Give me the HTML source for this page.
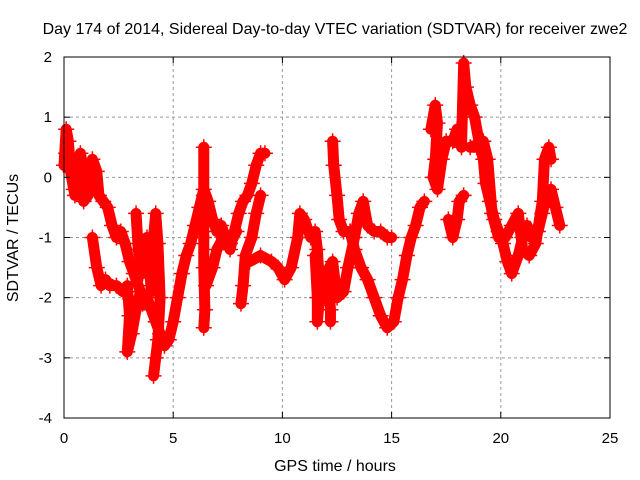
<!DOCTYPE html>
<html><head><meta charset="utf-8"><style>
html,body{margin:0;padding:0;background:#fff;}
svg{display:block;font-family:"Liberation Sans",sans-serif;}
</style></head><body>
<svg id="chart" width="640" height="480" viewBox="0 0 640 480">
<rect x="0" y="0" width="640" height="480" fill="#fff"/>
<text x="335" y="34" font-size="16" text-anchor="middle" fill="#000">Day 174 of 2014, Sidereal Day-to-day VTEC variation (SDTVAR) for receiver zwe2</text>
<g id="grid"></g>
<g id="marks"></g>
<rect x="64" y="57" width="546" height="361" fill="none" stroke="#000" stroke-width="1"/>
<g id="ticks"></g>
<text x="335" y="471" font-size="16" text-anchor="middle">GPS time / hours</text>
<text x="18" y="238" font-size="16" text-anchor="middle" transform="rotate(-90 18 238)">SDTVAR / TECUs</text>
</svg>
<script>
const xTicks = [0,5,10,15,20,25];
const yTicks = [2,1,0,-1,-2,-3,-4];
const segmentTimes = [
 [0,0.1,0.2,0.3,0.45,0.6,0.75,0.9,1.0,1.15,1.3,1.5,1.6,1.8,2.0,2.2,2.4,2.6,2.8,3.0,3.2,3.4,3.6,3.8,4.0,4.2,4.4,4.6,4.8,5.0,5.2,5.4,5.6,5.8,6.0,6.2,6.4,6.6,6.8,7.0,7.2,7.4,7.6,7.8,8.0,8.2,8.4,8.6,8.8,9.0,9.2],
 [1.3,1.5,1.7,1.9,2.1,2.4,2.7,2.9,3.0,2.9,3.1,3.3,3.5,3.6],
 [3.3,3.4,3.6,3.8,4.0,4.1,4.2,4.3,4.4,4.3,4.2,4.1],
 [6.4,6.4,6.4,6.4,6.45,6.4],
 [9.0,8.8,8.6,8.3,8.2,8.1],
 [8.5,9.0,9.5,9.8,10.1,10.4,10.7,10.8,11.0,11.3,11.5,11.6,11.7,11.9,12.0,12.3,12.5,12.8,13.0,13.3,13.5,13.7,13.9,14.2,14.5,14.8,15.0],
 [12.3,12.35,12.5,12.6,12.8,13.1],
 [11.5,11.6,11.6,11.8,12.1,12.2,12.2],
 [13.1,13.3,13.6,13.9,14.2,14.5,14.8,15.1,15.3,15.5,15.7,15.9,16.1,16.3,16.5],
 [16.8,17.0,17.1,17.0,16.9,17.1,17.3,17.5,17.8,18.0,18.2,18.3,18.4,18.6,18.8,19.0,19.2,19.3,19.5,19.7,19.9,20.1,20.3,20.5,20.8,21.0,21.2,21.4,21.7,21.9,22.1,22.3,22.5,22.7],
 [17.6,17.8,18.0,18.1,18.3],
 [18.6,18.9,19.2,19.4,19.6,19.9,20.2,20.5,20.8,21.0,21.3,21.6,21.9,22.0,22.2,22.3],
 [6.5,6.8,7.0,7.3,7.6,7.9],
 [0.1,0.3,0.5,0.7,0.9,1.1,1.3]
];
const segmentValues = [
 [0.2,0.8,0.6,0.1,-0.2,0.2,0.4,0.1,-0.3,0.1,0.3,0.1,-0.3,-0.4,-0.5,-0.8,-1.0,-0.9,-1.1,-1.4,-1.6,-1.8,-2.0,-2.0,-2.2,-2.4,-2.6,-2.8,-2.7,-2.4,-2.0,-1.6,-1.3,-1.1,-0.8,-0.5,-0.2,-0.4,-0.7,-0.9,-0.8,-1.0,-1.2,-0.9,-0.6,-0.4,-0.3,-0.1,0.2,0.4,0.4],
 [-1.0,-1.5,-1.8,-1.7,-1.8,-1.8,-1.9,-1.8,-2.3,-2.9,-2.6,-2.2,-1.9,-2.1],
 [-0.6,-1.2,-1.6,-1.0,-1.9,-1.0,-0.6,-1.1,-2.0,-2.7,-3.0,-3.3],
 [0.5,-0.3,-1.0,-1.5,-2.2,-2.5],
 [-0.3,-0.6,-1.0,-1.3,-1.8,-2.1],
 [-1.4,-1.3,-1.4,-1.5,-1.7,-1.5,-1.0,-0.6,-0.7,-1.0,-0.9,-1.2,-1.8,-2.0,-1.6,-1.4,-2.0,-1.9,-1.5,-1.0,-0.6,-0.4,-0.8,-0.9,-0.9,-1.0,-1.0],
 [0.6,0.2,-0.3,-0.7,-0.9,-0.9],
 [-1.3,-2.0,-2.4,-1.6,-1.7,-2.2,-2.4],
 [-0.9,-1.2,-1.5,-1.7,-2.0,-2.3,-2.5,-2.4,-2.0,-1.7,-1.3,-1.0,-0.8,-0.5,-0.4],
 [0.8,1.2,0.9,0.3,0.0,-0.2,0.3,0.6,0.6,0.8,0.5,1.9,1.5,1.2,1.0,0.6,0.3,-0.1,-0.4,-0.7,-0.9,-1.1,-1.4,-1.6,-1.3,-1.0,-0.8,-1.0,-0.9,-0.6,-0.3,-0.2,-0.5,-0.8],
 [-0.7,-1.0,-0.7,-0.4,-0.3],
 [0.5,0.5,0.6,0.3,-0.6,-1.0,-1.0,-0.8,-0.6,-1.2,-1.3,-1.1,-0.4,0.3,0.5,0.3],
 [-1.8,-1.5,-1.2,-1.0,-1.1,-0.9],
 [0.4,0.1,-0.3,-0.2,-0.4,-0.3,0.0]
];
const NS='http://www.w3.org/2000/svg';
const X0=64,X1=610,Y0=418,Y1=57;
function xs(t){return X0+(t-0)/(25-0)*(X1-X0);}
function ys(v){return Y0-(v-(-4))/(2-(-4))*(Y0-Y1);}
function mk(tag,attrs,parent){const e=document.createElementNS(NS,tag);for(const k in attrs)e.setAttribute(k,attrs[k]);parent.appendChild(e);return e;}
const grid=document.getElementById('grid'),ticks=document.getElementById('ticks'),marks=document.getElementById('marks');
xTicks.forEach(t=>{
 const x=xs(t);
 if(t>0&&t<25){const g=mk('line',{x1:x,x2:x,y1:Y1,y2:Y0,stroke:'#999','stroke-dasharray':'3,3','stroke-width':1},grid);
 
 }
 mk('line',{x1:x,x2:x,y1:Y0,y2:Y0-6,stroke:'#000'},ticks);
 mk('line',{x1:x,x2:x,y1:Y1,y2:Y1+6,stroke:'#000'},ticks);
 const l=mk('text',{x:x,y:443,'font-size':15,'text-anchor':'middle'},ticks);l.textContent=t;
 
 
});
yTicks.forEach(v=>{
 const y=ys(v);
 if(v>-4&&v<2){const g=mk('line',{x1:X0,x2:X1,y1:y,y2:y,stroke:'#999','stroke-dasharray':'3,3','stroke-width':1},grid);
 
 }
 mk('line',{x1:X0,x2:X0+6,y1:y,y2:y,stroke:'#000'},ticks);
 mk('line',{x1:X1,x2:X1-6,y1:y,y2:y,stroke:'#000'},ticks);
 const l=mk('text',{x:52,y:y+5,'font-size':15,'text-anchor':'end'},ticks);l.textContent=v;
 
 
});
segmentTimes.forEach((ts,i)=>{
 const vs=segmentValues[i];
 const pts=ts.map((t,j)=>xs(t)+','+ys(vs[j])).join(' ');
 const pl=mk('polyline',{points:pts,fill:'none',stroke:'#f00','stroke-width':11,'stroke-linejoin':'round','stroke-linecap':'round'},marks);
 
 
 ts.forEach((t,j)=>{
  const x=xs(t),y=ys(vs[j]);
  const p=mk('path',{d:`M${x-8},${y}H${x+8}M${x},${y-8}V${y+8}`,stroke:'#f00','stroke-width':1.5},marks);
  
  
 });
});
</script>
</body></html>
